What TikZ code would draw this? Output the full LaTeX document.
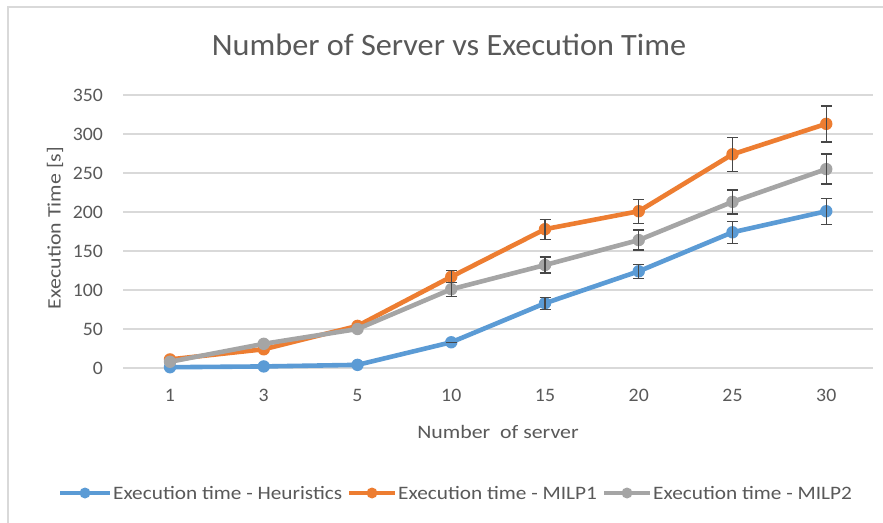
\documentclass[tikz,border=0pt]{standalone}
\usepackage{fontspec}
\setmainfont{Carlito}
\newfontfamily\labelfont[FakeStretch=1.15]{Carlito}
\newfontfamily\keyfont[FakeStretch=1.12]{Carlito}
\newfontfamily\tickfont[FakeStretch=1.04]{Carlito}
\newfontfamily\headfont[FakeStretch=1.04]{Carlito}
\usetikzlibrary{calc}
\definecolor{heurC}{HTML}{5B9BD5}
\definecolor{milpaC}{HTML}{ED7D31}
\definecolor{milpbC}{HTML}{A5A5A5}
\definecolor{gridC}{HTML}{D9D9D9}
\definecolor{textC}{HTML}{595959}
\definecolor{barC}{HTML}{474747}
\tikzset{
  frameline/.style={draw=gridC, line width=1.2pt},
  gridline/.style={draw=gridC, line width=1.2pt},
  ticklabel/.style={text=textC, font=\tickfont\fontsize{19}{19}\selectfont, inner sep=0pt},
  axistitle/.style={text=textC, font=\labelfont\fontsize{19}{19}\selectfont, inner sep=0pt},
  charttitle/.style={text=textC, font=\headfont\fontsize{31}{31}\selectfont, inner sep=0pt},
  legendtext/.style={text=textC, font=\keyfont\fontsize{19}{19}\selectfont, inner sep=0pt, anchor=west},
  series/.style={line width=4.6pt, line join=round, line cap=round},
  errbar/.style={draw=barC, line width=1.3pt},
}
% category x position and value-to-y mapping
\newcommand{\catx}[1]{170+93.75*#1}
\newcommand{\valy}[1]{154+0.78*#1}
\begin{document}
\begin{tikzpicture}[x=1pt,y=1pt]
\useasboundingbox (0,0) rectangle (883,522);
\fill[white] (0,0) rectangle (883,522);
% chart frame (runs off the right and bottom edges)
\draw[frameline] (8,-10) -- (8,515) -- (900,515);

% title
\node[charttitle] (title) at (449,477) {Number of Server vs Execution Time};

% horizontal gridlines and value labels
\foreach \v in {0,50,...,350}{
  \coordinate (gl\v) at (123,{\valy{\v}});
  \coordinate (gr\v) at (873,{\valy{\v}});
  \draw[gridline] (gl\v) -- (gr\v);
  \node[ticklabel, anchor=east] (yl\v) at (103,{\valy{\v}}) {\v};
}

% category labels
\foreach \c [count=\i from 0] in {1,3,5,10,15,20,25,30}{
  \node[ticklabel] (xl\i) at ({\catx{\i}},127) {\c};
}

% axis titles
\node[axistitle, rotate=90] (ytitle) at (55,294) {Execution Time [s]};
\node[axistitle] (xtitle) at (498,90) {Number\ \ of server};

% data points
\foreach \v/\e [count=\i from 0] in {1/0,2/0,4/0,33/0,83/6,124/7,174/11,201/13}{
  \coordinate (h\i) at ({\catx{\i}},{\valy{\v}});
  \coordinate (ht\i) at ({\catx{\i}},{\valy{\v+\e}});
  \coordinate (hb\i) at ({\catx{\i}},{\valy{\v-\e}});
}
\foreach \v/\e [count=\i from 0] in {11/0,24/0,54/0,117/6,178/10,201/12,274/17,313/18}{
  \coordinate (m\i) at ({\catx{\i}},{\valy{\v}});
  \coordinate (mt\i) at ({\catx{\i}},{\valy{\v+\e}});
  \coordinate (mb\i) at ({\catx{\i}},{\valy{\v-\e}});
}
\foreach \v/\e [count=\i from 0] in {8/0,31/0,50/0,101/7,132/8,164/10,213/12,255/15}{
  \coordinate (n\i) at ({\catx{\i}},{\valy{\v}});
  \coordinate (nt\i) at ({\catx{\i}},{\valy{\v+\e}});
  \coordinate (nb\i) at ({\catx{\i}},{\valy{\v-\e}});
}

% series: heuristics, MILP1, MILP2
\foreach \s/\col in {h/heurC,m/milpaC,n/milpbC}{
  \draw[series, draw=\col] (\s0) -- (\s1) -- (\s2) -- (\s3) -- (\s4) -- (\s5) -- (\s6) -- (\s7);
  \foreach \i in {0,...,7}{
    \fill[\col] (\s\i) circle (6.2);
  }
  \foreach \i in {3,...,7}{
    \draw[errbar] (\s t\i) -- (\s b\i);
    \draw[errbar] ([xshift=-5.5]\s t\i) -- ([xshift=5.5]\s t\i);
    \draw[errbar] ([xshift=-5.5]\s b\i) -- ([xshift=5.5]\s b\i);
  }
}

% legend
\foreach \a/\b/\col/\txt/\nm in {
  60/110/heurC/{Execution time - Heuristics}/la,
  349/395/milpaC/{Execution time - MILP1}/lb,
  604/650/milpbC/{Execution time - MILP2}/lc}{
  \coordinate (\nm s) at (\a,29);
  \coordinate (\nm e) at (\b,29);
  \draw[series, draw=\col, line cap=butt] (\nm s) -- (\nm e);
  \fill[\col] ($(\nm s)!0.5!(\nm e)$) circle (5.5);
  \node[legendtext] (\nm t) at ([xshift=3]\nm e) {\txt};
}
\end{tikzpicture}
\end{document}
